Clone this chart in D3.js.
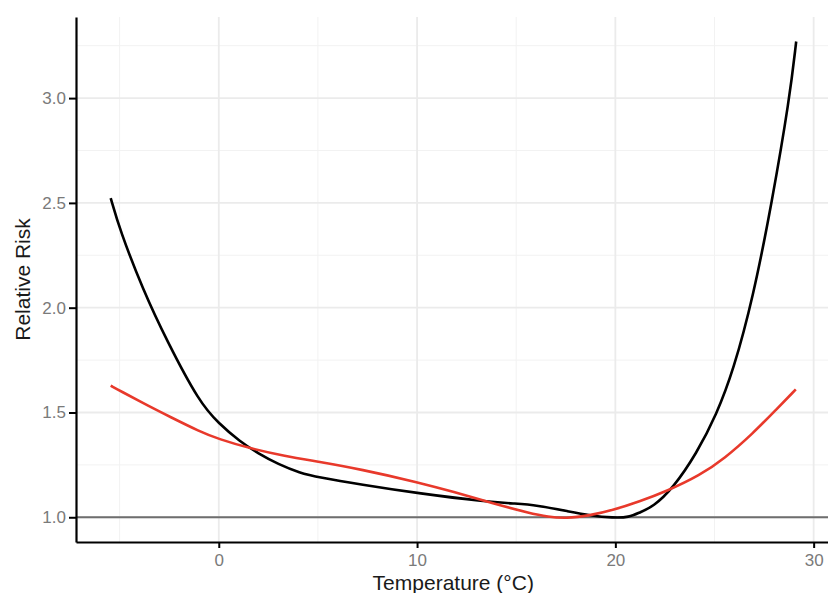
<!DOCTYPE html>
<html>
<head>
<meta charset="utf-8">
<script src="https://cdn.jsdelivr.net/npm/d3@7"></script>
<style>
  body { margin: 0; background: #fff; }
  svg { display: block; font-family: "Liberation Sans", Arial, sans-serif; }
</style>
</head>
<body>
<div class="chart"></div>
<script>
// temperatures (°C) and relative risk
var blackTemp = [-5.45, -4.99, -3.82, -2.64, -0.96, 0.0, 1.06, 2.0, 3.0, 4.08, 5.04, 7.11, 10.14, 13.5, 15.0, 16.0, 17.7, 18.7, 19.9, 20.7, 21.2, 21.9, 22.9, 24.1, 25.1, 25.95, 26.95, 27.89, 28.79, 29.12];
var blackRisk = [2.523, 2.371, 2.085, 1.846, 1.545, 1.448, 1.361, 1.304, 1.253, 1.212, 1.191, 1.157, 1.113, 1.074, 1.065, 1.058, 1.027, 1.009, 0.997, 1.0, 1.022, 1.05, 1.138, 1.305, 1.49, 1.70, 2.05, 2.5, 3.0, 3.27];

var redTemp = [-5.45, -4.99, -3.48, -2.47, -0.96, 0.0, 1.56, 3.33, 5.04, 7.11, 10.14, 11.8, 13.8, 15.7, 16.6, 17.5, 18.7, 19.9, 21.2, 22.6, 24.26, 25.5, 26.94, 28.12, 29.1];
var redRisk = [1.628, 1.604, 1.528, 1.48, 1.409, 1.373, 1.329, 1.292, 1.265, 1.23, 1.165, 1.122, 1.067, 1.019, 1.002, 0.994, 1.008, 1.035, 1.075, 1.125, 1.2, 1.28, 1.4, 1.515, 1.61];

var xMajor = [0, 10, 20, 30];
var xMinor = [-5, 5, 15, 25];
var yMajor = [1.0, 1.5, 2.0, 2.5, 3.0];
var yMinor = [1.25, 1.75, 2.25, 2.75, 3.25];

document.addEventListener("DOMContentLoaded", function () {
    var w = 828, h = 593;
    var left = 76, right = 830.5, top = 17, bottom = 542;

    var x = d3.scaleLinear().domain([-7.2, 30.85]).range([left, right]);
    var y = d3.scaleLinear().domain([0.882, 3.387]).range([bottom, top]);

    var svg = d3.select(".chart")
        .append("svg")
        .attr("width", w)
        .attr("height", h);

    // grid
    var grid = svg.append("g");
    grid.selectAll(".ymin").data(yMinor).enter().append("line")
        .attr("x1", left).attr("x2", right)
        .attr("y1", d => y(d)).attr("y2", d => y(d))
        .attr("stroke", "#f2f2f2").attr("stroke-width", 1);
    grid.selectAll(".xmin").data(xMinor).enter().append("line")
        .attr("y1", top).attr("y2", bottom)
        .attr("x1", d => x(d)).attr("x2", d => x(d))
        .attr("stroke", "#f2f2f2").attr("stroke-width", 1);
    grid.selectAll(".ymaj").data(yMajor).enter().append("line")
        .attr("x1", left).attr("x2", right)
        .attr("y1", d => y(d)).attr("y2", d => y(d))
        .attr("stroke", "#ebebeb").attr("stroke-width", 1.8);
    grid.selectAll(".xmaj").data(xMajor).enter().append("line")
        .attr("y1", top).attr("y2", bottom)
        .attr("x1", d => x(d)).attr("x2", d => x(d))
        .attr("stroke", "#ebebeb").attr("stroke-width", 1.8);

    // reference line at RR = 1
    svg.append("line")
        .attr("x1", left).attr("x2", right)
        .attr("y1", y(1)).attr("y2", y(1))
        .attr("stroke", "#6e6e6e").attr("stroke-width", 1.8);

    var line = d3.line()
        .x(d => x(d[0]))
        .y(d => y(d[1]))
        .curve(d3.curveBasis);

    svg.append("path")
        .datum(d3.zip(blackTemp, blackRisk))
        .attr("d", line)
        .attr("fill", "none")
        .attr("stroke", "#000")
        .attr("stroke-width", 2.6);

    svg.append("path")
        .datum(d3.zip(redTemp, redRisk))
        .attr("d", line)
        .attr("fill", "none")
        .attr("stroke", "#e8392b")
        .attr("stroke-width", 2.6);

    // axes
    var yAxis = svg.append("g")
        .attr("transform", "translate(" + left + ",0)")
        .call(d3.axisLeft(y).tickValues(yMajor).tickFormat(d3.format(".1f"))
            .tickSize(7).tickSizeOuter(0).tickPadding(3));
    var xAxis = svg.append("g")
        .attr("transform", "translate(0," + bottom + ")")
        .call(d3.axisBottom(x).tickValues(xMajor).tickFormat(d3.format("d"))
            .tickSize(6).tickSizeOuter(0).tickPadding(6));

    [xAxis, yAxis].forEach(function (a) {
        a.select(".domain").attr("stroke", "#000").attr("stroke-width", 2.2);
        a.selectAll(".tick line").attr("stroke", "#000").attr("stroke-width", 2);
        a.selectAll(".tick text")
            .attr("fill", "#7a7a7a")
            .style("font-size", "17px")
            .style("font-family", "'Liberation Sans', Arial, sans-serif");
    });

    // titles
    svg.append("text")
        .attr("x", (left + right) / 2)
        .attr("y", 590)
        .attr("text-anchor", "middle")
        .attr("fill", "#1a1a1a")
        .style("font-size", "21px")
        .text("Temperature (°C)");

    svg.append("text")
        .attr("transform", "translate(29.5," + (top + bottom) / 2 + ") rotate(-90)")
        .attr("text-anchor", "middle")
        .attr("fill", "#1a1a1a")
        .style("font-size", "21px")
        .text("Relative Risk");
});
</script>
</body>
</html>
